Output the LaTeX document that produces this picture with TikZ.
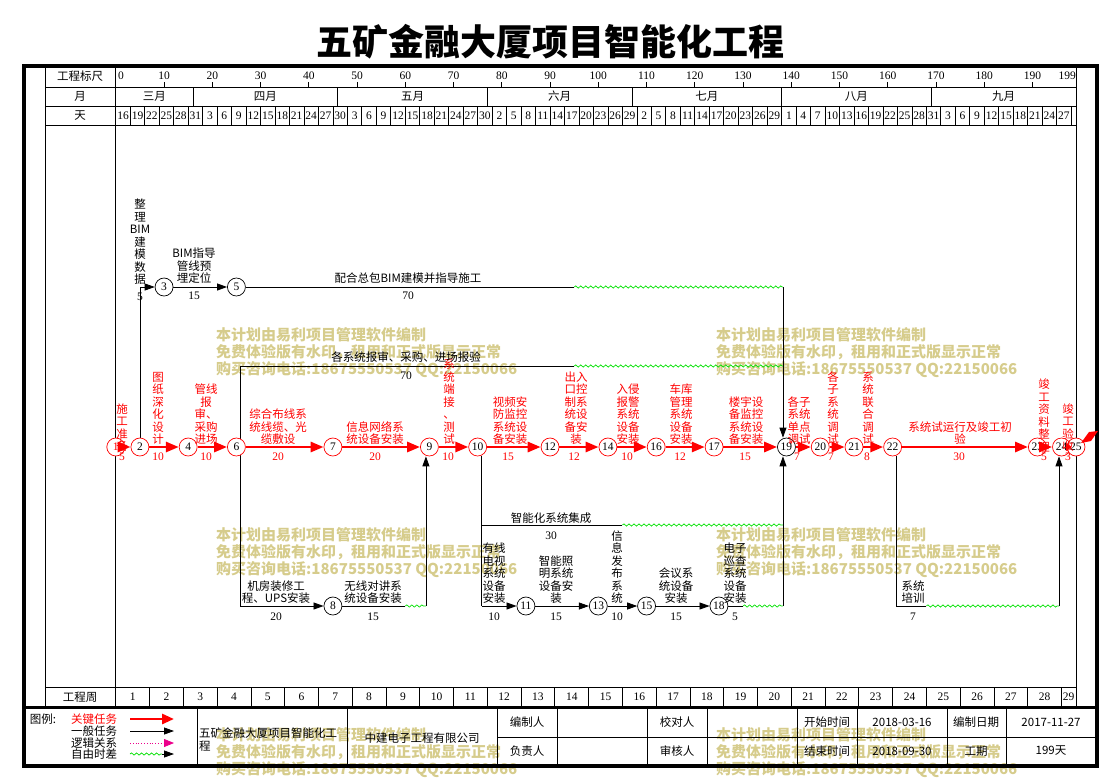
\documentclass[tikz,border=0pt]{standalone}
\usepackage{fontspec}
\setmainfont{Liberation Serif}
\newfontfamily\cjk{Noto Sans CJK SC}
\usetikzlibrary{arrows.meta,decorations.pathmorphing}
\definecolor{wmc}{RGB}{214,204,140}
\definecolor{fgreen}{RGB}{0,225,0}
\pgfdeclarelayer{bg}
\pgfsetlayers{bg,main}
\tikzset{
  lbl/.style={font=\cjk\fontsize{11.5}{12.5}\selectfont, align=center, inner sep=0pt},
  rl/.style={lbl, text=red, anchor=south},
  bl/.style={lbl, anchor=south},
  dur/.style={font=\fontsize{11.5}{12}\selectfont, inner sep=0pt},
  rdur/.style={dur, text=red},
  nd/.style={circle, draw=black, fill=white, minimum size=18pt, inner sep=0pt, line width=0.7pt, font=\fontsize{11.5}{12}\selectfont},
  rnd/.style={nd, draw=red},
  crit/.style={draw=red, line width=2.8pt, -{Triangle[length=13pt,width=10pt]}},
  gen/.style={draw=black, line width=0.8pt},
  genar/.style={gen, -{Triangle[length=10pt,width=7pt]}},
  wav/.style={draw=fgreen, line width=0.7pt, decorate, decoration={snake, amplitude=1.1pt, segment length=5pt}},
  wmk/.style={font=\cjk\bfseries\fontsize{15}{17}\selectfont, text=wmc, anchor=west, inner sep=0pt},
  gridln/.style={draw=black, line width=0.8pt},
  hd/.style={font=\cjk\fontsize{11.5}{12}\selectfont, inner sep=0pt},
  num/.style={font=\fontsize{11.5}{12}\selectfont, inner sep=0pt},
}
\begin{document}
\begin{tikzpicture}[x=1pt,y=-1pt,declare function={X(\d)=115.8+4.825*\d;}]
\useasboundingbox (0,0) rectangle (1101,777);

% ---------- title
\node[font=\cjk\bfseries\fontsize{36}{36}\selectfont, inner sep=0pt] (title) at (550,42) {五矿金融大厦项目智能化工程};

% ---------- nodes (main layer)
\node[rnd, text=red] (n1) at ({X(0)},447) {1};
\node[rnd] (n2) at ({X(5)},447) {2};
\node[nd] (n3) at ({X(10)},287) {3};
\node[rnd] (n4) at ({X(15)},447) {4};
\node[nd] (n5) at ({X(25)},287) {5};
\node[rnd] (n6) at ({X(25)},447) {6};
\node[rnd] (n7) at ({X(45)},447) {7};
\node[nd] (n8) at ({X(45)},606) {8};
\node[rnd] (n9) at ({X(65)},447) {9};
\node[rnd] (n10) at ({X(75)},447) {10};
\node[nd] (n11) at ({X(85)},606) {11};
\node[rnd] (n12) at ({X(90)},447) {12};
\node[nd] (n13) at ({X(100)},606) {13};
\node[rnd] (n14) at ({X(102)},447) {14};
\node[nd] (n15) at ({X(110)},606) {15};
\node[rnd] (n16) at ({X(112)},447) {16};
\node[rnd] (n17) at ({X(124)},447) {17};
\node[nd] (n18) at ({X(125)},606) {18};
\node[nd] (n19) at ({X(139)},447) {19};
\node[rnd] (n20) at ({X(146)},447) {20};
\node[rnd] (n21) at ({X(153)},447) {21};
\node[rnd] (n22) at ({X(161)},447) {22};
\node[rnd] (n23) at ({X(191)},447) {23};
\node[rnd] (n24) at ({X(196)},447) {24};
\node[rnd] (n25) at ({X(199)},447) {25};

% ---------- coordinates
\coordinate (c6t) at ({X(25)+4},366);
\coordinate (c6b) at ({X(25)+4},606);
\coordinate (w5s) at ({X(95)},287);
\coordinate (w5e) at ({X(139)-3.5},287);
\coordinate (w6s) at ({X(95)},366);
\coordinate (w6e) at ({X(139)-3.5},366);
\coordinate (w8s) at ({X(60)},606);
\coordinate (w8e) at ({X(65)-3.5},606);
\coordinate (c10b) at ({X(75)+4},606);
\coordinate (c10m) at ({X(75)+4},525);
\coordinate (w10s) at ({X(105)},525);
\coordinate (w10e) at ({X(139)-3.5},525);
\coordinate (w18s) at ({X(130)},606);
\coordinate (w18e) at ({X(139)-3.5},606);
\coordinate (c22b) at ({X(161)+4},606);
\coordinate (w22s) at ({X(168)},606);
\coordinate (w22e) at ({X(196)-2.5},606);

\begin{pgfonlayer}{bg}
% ---------- watermarks
\foreach \wx/\wy in {216/335,716/335,216/535,716/535,216/735,716/735}{
  \node[wmk] (wa-\wx-\wy) at (\wx,\wy) {本计划由易利项目管理软件编制};
  \node[wmk] (wb-\wx-\wy) at (\wx,\wy+17.5) {免费体验版有水印，租用和正式版显示正常};
  \node[wmk] (wc-\wx-\wy) at (\wx,\wy+35) {购买咨询电话:18675550537 QQ:22150066};
}

% ---------- frame and grid
\draw[gridln] (45,87) -- (1076,87);
\draw[gridln] (45,106) -- (1076,106);
\draw[gridln] (45,125) -- (1076,125);
\draw[gridln] (45,687) -- (1076,687);
\draw[gridln] (45,66) -- (45,707);
\draw[gridln] ({X(0)},66) -- ({X(0)},707);
\draw[gridln] (1076,66) -- (1076,707);
\draw[line width=3pt] (24,707) -- (1097,707);
\draw[line width=4pt] (24,66) rectangle (1097,766);

% scale row
\node[hd] (hscale) at (80,76.5) {工程标尺};
\node[num, anchor=west] (s0) at ({X(0)+2},76) {0};
\foreach \k [evaluate=\k as \lab using int(10*\k)] in {1,...,19}{
  \draw[gridln] ({X(10*\k)},82) -- ({X(10*\k)},87);
  \node[num] (s\k) at ({X(10*\k)},76) {\lab};
}
\node[num, anchor=east] (s199) at (1076,76) {199};

% month row
\node[hd] (hmonth) at (80,96.5) {月};
\foreach \d in {16,46,77,107,138,169}{
  \draw[gridln] ({X(\d)},87) -- ({X(\d)},106);
}
\node[hd] (m3) at ({X(8)},96.5) {三月};
\node[hd] (m4) at ({X(31)},96.5) {四月};
\node[hd] (m5) at ({X(61.5)},96.5) {五月};
\node[hd] (m6) at ({X(92)},96.5) {六月};
\node[hd] (m7) at ({X(122.5)},96.5) {七月};
\node[hd] (m8) at ({X(153.5)},96.5) {八月};
\node[hd] (m9) at ({X(184)},96.5) {九月};

% day row
\node[hd] (hday) at (80,115.5) {天};
\foreach \k in {1,...,66}{
  \draw[gridln] ({X(3*\k)},106) -- ({X(3*\k)},125);
}
\foreach \lab [count=\k from 0] in {16,19,22,25,28,31,3,6,9,12,15,18,21,24,27,30,3,6,9,12,15,18,21,24,27,30,2,5,8,11,14,17,20,23,26,29,2,5,8,11,14,17,20,23,26,29,1,4,7,10,13,16,19,22,25,28,31,3,6,9,12,15,18,21,24,27}{
  \node[num] (d\k) at ({X(3*\k+1.5)},115.8) {\lab};
}

% week row
\node[hd] (hweek) at (80,697) {工程周};
\foreach \k in {1,...,28}{
  \draw[gridln] ({X(7*\k)},687) -- ({X(7*\k)},707);
  \node[num] (wk\k) at ({X(7*\k-3.5)},697) {\k};
}
\node[num] (wk29) at ({X(197.5)},697) {29};

% ---------- non critical connectors
\draw[genar] (n2) |- (n3);
\draw[genar] (n3) -- (n5);
\draw[gen] (n5) -- (w5s);
\draw[wav] (w5s) -- (w5e);
\draw[genar] (w5e) -- (w5e |- n19.north);
\draw[gen] (c6t) -- (c6b);
\draw[gen] (c6t) -- (w6s);
\draw[wav] (w6s) -- (w6e);
\draw[genar] (c6b) -- (n8);
\draw[gen] (n8) -- (w8s);
\draw[wav] (w8s) -- (w8e);
\draw[genar] (w8e) -- (w8e |- n9.south);
\draw[gen] (c10b |- n10.south) -- (c10b);
\draw[gen] (c10m) -- (w10s);
\draw[wav] (w10s) -- (w10e);
\draw[genar] (c10b) -- (n11);
\draw[genar] (n11) -- (n13);
\draw[genar] (n13) -- (n15);
\draw[genar] (n15) -- (n18);
\draw[gen] (n18) -- (w18s);
\draw[wav] (w18s) -- (w18e);
\draw[genar] (w18e) -- (w18e |- n19.south);
\draw[gen] (c22b |- n22.south) -- (c22b) -- (w22s);
\draw[wav] (w22s) -- (w22e);
\draw[genar] (w22e) -- (w22e |- n24.south);

% ---------- legend frame
\foreach \lx in {197,347,497,557,647,707,797,857,947,1006}{
  \draw[gridln] (\lx,707) -- (\lx,766);
}
\draw[gridln] (497,737) -- (1097,737);
\end{pgfonlayer}

% ---------- critical connectors
\draw[crit] (n1) -- (n2);
\draw[crit] (n2) -- (n4);
\draw[crit] (n4) -- (n6);
\draw[crit] (n6) -- (n7);
\draw[crit] (n7) -- (n9);
\draw[crit] (n9) -- (n10);
\draw[crit] (n10) -- (n12);
\draw[crit] (n12) -- (n14);
\draw[crit] (n14) -- (n16);
\draw[crit] (n16) -- (n17);
\draw[crit] (n17) -- (n19);
\draw[crit] (n19) -- (n20);
\draw[crit] (n20) -- (n21);
\draw[crit] (n21) -- (n22);
\draw[crit] (n22) -- (n23);
\draw[crit] (n23) -- (n24);
\fill[red] ([shift={(-10,-3.5)}]n25.center) -- ([shift={(-4,0)}]n25.center) -- ([shift={(-10,3.5)}]n25.center) -- cycle;
\fill[red] ([shift={(5,-4)}]n25.center) -- ([shift={(13,-15)}]n25.center) -- ([shift={(22,-16)}]n25.center) -- ([shift={(15,-6)}]n25.center) -- cycle;

% ---------- critical labels
\node[rl] (l1) at (122,452) {施\\工\\准\\备};
\node[rl] (l2) at (158,445) {图\\纸\\深\\化\\设\\计};
\node[rl] (l3) at (206,445) {管线\\报\\审、\\采购\\进场};
\node[rl] (l4) at (278,445) {综合布线系\\统线缆、光\\缆敷设};
\node[rl] (l5) at (375,445) {信息网络系\\统设备安装};
\node[rl] (l6) at (449,445) {系\\统\\端\\接\\、\\测\\试};
\node[rl] (l7) at (510,445) {视频安\\防监控\\系统设\\备安装};
\node[rl] (l8) at (576,445) {出入\\口控\\制系\\统设\\备安\\装};
\node[rl] (l9) at (628,445) {入侵\\报警\\系统\\设备\\安装};
\node[rl] (l10) at (681,445) {车库\\管理\\系统\\设备\\安装};
\node[rl] (l11) at (746,445) {楼宇设\\备监控\\系统设\\备安装};
\node[rl] (l12) at (799,445) {各子\\系统\\单点\\调试};
\node[rl] (l13) at (833,445) {各\\子\\系\\统\\调\\试};
\node[rl] (l14) at (868,445) {系\\统\\联\\合\\调\\试};
\node[rl] (l15) at (960,445) {系统试运行及竣工初\\验};
\node[rl] (l16) at (1044,452) {竣\\工\\资\\料\\整\\理};
\node[rl] (l17) at (1068,452) {竣\\工\\验\\收};

\foreach \dx/\dv [count=\i] in {122/5,158/10,206/10,278/20,375/20,448/10,508/15,574/12,627/10,680/12,745/15,797/7,831/7,867/8,959/30,1044/5,1068/3}{
  \node[rdur] (rd\i) at (\dx,457) {\dv};
}

% ---------- other labels
\node[bl] (b1) at (140,285) {整\\理\\BIM\\建\\模\\数\\据};
\node[dur] (bd1) at (140,297) {5};
\node[bl] (b2) at (194,284) {BIM指导\\管线预\\埋定位};
\node[dur] (bd2) at (194,296) {15};
\node[lbl] (b3) at (408,278) {配合总包BIM建模并指导施工};
\node[dur] (bd3) at (408,296) {70};
\node[lbl] (b4) at (406,357) {各系统报审、采购、进场报验};
\node[dur] (bd4) at (406,376) {70};
\node[bl] (b5) at (276,604) {机房装修工\\程、UPS安装};
\node[dur] (bd5) at (276,617) {20};
\node[bl] (b6) at (373,604) {无线对讲系\\统设备安装};
\node[dur] (bd6) at (373,617) {15};
\node[lbl] (b7) at (551,518) {智能化系统集成};
\node[dur] (bd7) at (551,536) {30};
\node[bl] (b8) at (494,604) {有线\\电视\\系统\\设备\\安装};
\node[dur] (bd8) at (494,617) {10};
\node[bl] (b9) at (556,604) {智能照\\明系统\\设备安\\装};
\node[dur] (bd9) at (556,617) {15};
\node[bl] (b10) at (617,604) {信\\息\\发\\布\\系\\统};
\node[dur] (bd10) at (617,617) {10};
\node[bl] (b11) at (676,604) {会议系\\统设备\\安装};
\node[dur] (bd11) at (676,617) {15};
\node[bl] (b12) at (735,604) {电子\\巡查\\系统\\设备\\安装};
\node[dur] (bd12) at (735,617) {5};
\node[bl] (b13) at (913,604) {系统\\培训};
\node[dur] (bd13) at (913,617) {7};

% ---------- legend
\node[hd] (lgt) at (43,719) {图例:};
\node[hd, text=red] (lk1) at (94,719) {关键任务};
\node[hd] (lk2) at (94,731) {一般任务};
\node[hd] (lk3) at (94,743) {逻辑关系};
\node[hd] (lk4) at (94,754) {自由时差};
\coordinate (la1) at (130,719); \coordinate (lb1) at (174,719);
\coordinate (la2) at (130,731); \coordinate (lb2) at (174,731);
\coordinate (la3) at (130,743); \coordinate (lb3) at (174,743);
\coordinate (la4) at (130,754); \coordinate (lm4) at (162,754); \coordinate (lb4) at (174,754);
\draw[draw=red, line width=2.8pt, -{Triangle[length=12pt,width=10pt]}] (la1) -- (lb1);
\draw[genar] (la2) -- (lb2);
\draw[draw=magenta, line width=0.8pt, dotted, -{Triangle[length=10pt,width=8pt,fill=magenta]}] (la3) -- (lb3);
\draw[wav] (la4) -- (lm4);
\draw[genar] (lm4) -- (lb4);

\node[lbl, align=left, anchor=west] (tb1) at (199,739.5) {五矿金融大厦项目智能化工\\程};
\node[hd] (tb2) at (422,738) {中建电子工程有限公司};
\node[hd] (tb3) at (527,722) {编制人};
\node[hd] (tb4) at (527,751) {负责人};
\node[hd] (tb5) at (677,722) {校对人};
\node[hd] (tb6) at (677,751) {审核人};
\node[hd] (tb7) at (827,722) {开始时间};
\node[hd] (tb8) at (827,751) {结束时间};
\node[hd] (tb9) at (902,722) {2018-03-16};
\node[hd] (tb10) at (902,751) {2018-09-30};
\node[hd] (tb11) at (976,722) {编制日期};
\node[hd] (tb12) at (976,751) {工期};
\node[hd] (tb13) at (1051,722) {2017-11-27};
\node[hd] (tb14) at (1051,751) {199天};
\end{tikzpicture}
\end{document}
